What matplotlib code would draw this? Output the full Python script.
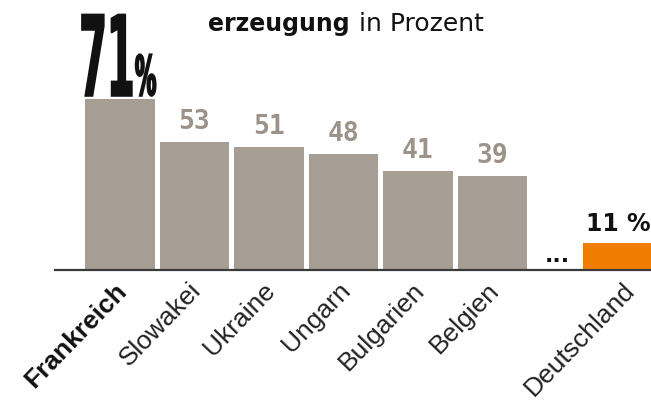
import matplotlib
matplotlib.use("Agg")
import matplotlib.pyplot as plt
import numpy as np
from matplotlib.textpath import TextPath
from matplotlib.patches import PathPatch
from matplotlib.font_manager import FontProperties
from matplotlib.transforms import Affine2D, ScaledTranslation

# data
countries = ["Frankreich", "Slowakei", "Ukraine", "Ungarn", "Bulgarien", "Belgien", "Deutschland"]
shares = [71, 53, 51, 48, 41, 39, 11]
title_bold = "erzeugung"
title_rest = "in Prozent"

GREY = "#a69d95"
ORANGE = "#f07d00"

# layout: Deutschland sits apart, behind a "..." gap
xpos = np.r_[np.arange(6), 6.68]
colors = [GREY] * 6 + [ORANGE]

fig = plt.figure(figsize=(6.51, 4.09), dpi=100)
ax = fig.add_axes([55 / 651, 139 / 409, 596 / 651, 270 / 409])
ax.bar(xpos, shares, width=0.935, color=colors, zorder=1)
ax.set_xlim(-0.872, 7.128)
ax.set_ylim(0, 112)

for s in ["top", "left", "right"]:
    ax.spines[s].set_visible(False)
ax.spines["bottom"].set_color("#3a3a3a")
ax.spines["bottom"].set_linewidth(1.6)
ax.spines["bottom"].set_zorder(3)
ax.set_yticks([])

ax.set_xticks(xpos, countries, rotation=46, ha="right",
              rotation_mode="anchor", fontsize=19, color="#222222",
              family="Liberation Sans")
ax.tick_params(axis="x", length=0, pad=6)
labels = ax.get_xticklabels()
labels[0].set_fontweight("bold")
labels[0].set_color("#111111")
# nudge the rotated labels a little, as in the original
for i, lab in enumerate(labels):
    dx = 0.05 if i == len(labels) - 1 else -0.06
    lab.set_transform(lab.get_transform() + ScaledTranslation(dx, 0, fig.dpi_scale_trans))

# value labels for the grey bars
for xi, v in zip(xpos[1:6], shares[1:6]):
    ax.text(xi, v + 2.9, str(v), ha="center", va="bottom", fontsize=19,
            fontweight="bold", color="#9b928a", family="DejaVu Sans Mono")

# Deutschland label
ax.text(xpos[6] + 0.01, shares[6] + 2.9, "%d %%" % shares[6], ha="center",
        va="bottom", fontsize=17, fontweight="bold", color="#111111",
        family="DejaVu Sans", clip_on=False)
ax.text(5.87, 1.5, "...", ha="center", va="bottom", fontsize=16,
        fontweight="bold", color="#111111")


def squeezed(text, x0, x1, y0, y1, prop):
    tp = TextPath((0, 0), text, size=100, prop=prop)
    ext = tp.get_extents()
    tr = (Affine2D().translate(-ext.x0, -ext.y0)
          .scale((x1 - x0) / ext.width, (y1 - y0) / ext.height)
          .translate(x0, y0))
    patch = PathPatch(tr.transform_path(tp), facecolor="#111111",
                      edgecolor="#111111", lw=1.2, transform=ax.transData,
                      clip_on=False)
    ax.add_patch(patch)


big = FontProperties(family=["Liberation Sans Narrow", "DejaVu Sans"], weight="bold")
top = shares[0]
squeezed(str(top), -0.51, 0.16, top + 1.2, top + 35.0, big)
squeezed("%", 0.21, 0.48, top + 1.2, top + 18.5, big)

fig.text(350 / 651, 1 - 31 / 409, title_bold, ha="right", va="baseline",
         fontsize=17, fontweight="bold", color="#111111")
fig.text(359 / 651, 1 - 31 / 409, title_rest, ha="left", va="baseline",
         fontsize=18, color="#111111")

fig.savefig("out.png", dpi=100)
